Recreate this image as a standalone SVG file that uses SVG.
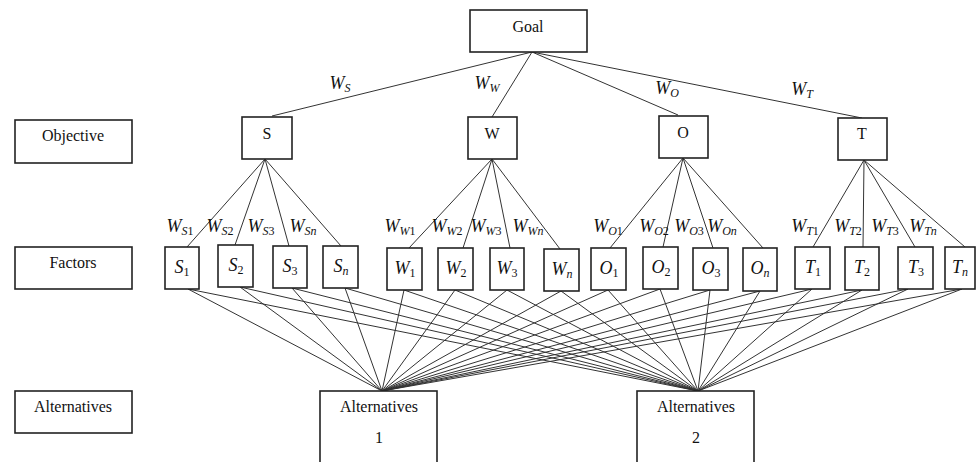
<svg xmlns="http://www.w3.org/2000/svg" width="976" height="462" viewBox="0 0 976 462">
<style>
.box{fill:#fff;stroke:#222;stroke-width:1.6}
.lbl{font-family:"Times New Roman",Times,"Liberation Serif","Noto Serif","DejaVu Serif",serif;font-size:16px;fill:#111;text-anchor:middle}
.w{font-family:"Times New Roman",Times,"Liberation Serif","Noto Serif","DejaVu Serif",serif;font-style:italic;font-size:18px;fill:#111;text-anchor:middle}
.sub{font-size:12px}
.d{font-style:normal}
.c line{stroke:#333;stroke-width:1}
</style>
<rect width="976" height="462" fill="#fff"/>
<g class="c" id="connectors">
<line x1="532" y1="52" x2="272" y2="116"/>
<line x1="532" y1="52" x2="492" y2="117"/>
<line x1="532" y1="52" x2="678" y2="115"/>
<line x1="532" y1="52" x2="862" y2="118"/>
<line x1="265" y1="159" x2="187" y2="247"/>
<line x1="265" y1="159" x2="235" y2="245"/>
<line x1="265" y1="159" x2="289" y2="246"/>
<line x1="265" y1="159" x2="341" y2="246"/>
<line x1="492" y1="159" x2="409" y2="248"/>
<line x1="492" y1="159" x2="463" y2="248"/>
<line x1="492" y1="159" x2="510" y2="248"/>
<line x1="492" y1="159" x2="560" y2="249"/>
<line x1="683" y1="158" x2="610" y2="248"/>
<line x1="683" y1="158" x2="663" y2="247"/>
<line x1="683" y1="158" x2="713" y2="248"/>
<line x1="683" y1="158" x2="763" y2="248"/>
<line x1="864" y1="160" x2="813" y2="247"/>
<line x1="864" y1="160" x2="863" y2="247"/>
<line x1="864" y1="160" x2="915" y2="247"/>
<line x1="864" y1="160" x2="965" y2="247"/>
<line x1="188" y1="289" x2="382" y2="391"/><line x1="188" y1="289" x2="698" y2="391"/>
<line x1="240" y1="287" x2="382" y2="391"/><line x1="240" y1="287" x2="698" y2="391"/>
<line x1="292" y1="288" x2="382" y2="391"/><line x1="292" y1="288" x2="698" y2="391"/>
<line x1="345" y1="288" x2="382" y2="391"/><line x1="345" y1="288" x2="698" y2="391"/>
<line x1="404" y1="290" x2="382" y2="391"/><line x1="404" y1="290" x2="698" y2="391"/>
<line x1="455" y1="290" x2="382" y2="391"/><line x1="455" y1="290" x2="698" y2="391"/>
<line x1="507" y1="290" x2="382" y2="391"/><line x1="507" y1="290" x2="698" y2="391"/>
<line x1="561" y1="291" x2="382" y2="391"/><line x1="561" y1="291" x2="698" y2="391"/>
<line x1="608" y1="290" x2="382" y2="391"/><line x1="608" y1="290" x2="698" y2="391"/>
<line x1="660" y1="289" x2="382" y2="391"/><line x1="660" y1="289" x2="698" y2="391"/>
<line x1="710" y1="290" x2="382" y2="391"/><line x1="710" y1="290" x2="698" y2="391"/>
<line x1="760" y1="291" x2="382" y2="391"/><line x1="760" y1="291" x2="698" y2="391"/>
<line x1="812" y1="289" x2="382" y2="391"/><line x1="812" y1="289" x2="698" y2="391"/>
<line x1="862" y1="290" x2="382" y2="391"/><line x1="862" y1="290" x2="698" y2="391"/>
<line x1="908" y1="289" x2="382" y2="391"/><line x1="908" y1="289" x2="698" y2="391"/>
<line x1="962" y1="289" x2="382" y2="391"/><line x1="962" y1="289" x2="698" y2="391"/>
</g>
<g id="weights">
<text class="w" x="340" y="89">W<tspan class="sub" dy="3">S</tspan></text>
<text class="w" x="487" y="89">W<tspan class="sub" dy="3">W</tspan></text>
<text class="w" x="667" y="94">W<tspan class="sub" dy="3">O</tspan></text>
<text class="w" x="802" y="95">W<tspan class="sub" dy="3">T</tspan></text>
<text class="w" x="180" y="232">W<tspan class="sub" dy="3">S<tspan class="d">1</tspan></tspan></text>
<text class="w" x="220" y="232">W<tspan class="sub" dy="3">S<tspan class="d">2</tspan></tspan></text>
<text class="w" x="261" y="232">W<tspan class="sub" dy="3">S<tspan class="d">3</tspan></tspan></text>
<text class="w" x="303" y="232">W<tspan class="sub" dy="3">Sn</tspan></text>
<text class="w" x="400" y="232">W<tspan class="sub" dy="3">W<tspan class="d">1</tspan></tspan></text>
<text class="w" x="447" y="232">W<tspan class="sub" dy="3">W<tspan class="d">2</tspan></tspan></text>
<text class="w" x="486" y="232">W<tspan class="sub" dy="3">W<tspan class="d">3</tspan></tspan></text>
<text class="w" x="528" y="232">W<tspan class="sub" dy="3">Wn</tspan></text>
<text class="w" x="608" y="232">W<tspan class="sub" dy="3">O<tspan class="d">1</tspan></tspan></text>
<text class="w" x="654" y="232">W<tspan class="sub" dy="3">O<tspan class="d">2</tspan></tspan></text>
<text class="w" x="689" y="232">W<tspan class="sub" dy="3">O<tspan class="d">3</tspan></tspan></text>
<text class="w" x="722" y="232">W<tspan class="sub" dy="3">On</tspan></text>
<text class="w" x="805" y="232">W<tspan class="sub" dy="3">T<tspan class="d">1</tspan></tspan></text>
<text class="w" x="848" y="232">W<tspan class="sub" dy="3">T<tspan class="d">2</tspan></tspan></text>
<text class="w" x="885" y="232">W<tspan class="sub" dy="3">T<tspan class="d">3</tspan></tspan></text>
<text class="w" x="923" y="232">W<tspan class="sub" dy="3">Tn</tspan></text>
</g>
<g id="goal"><rect class="box" x="470" y="10" width="117" height="42"/><text class="lbl" x="528" y="32">Goal</text></g>
<g id="label-objective"><rect class="box" x="15" y="120" width="117" height="43"/><text class="lbl" x="73" y="141">Objective</text></g>
<g id="label-factors"><rect class="box" x="15" y="247" width="117" height="42"/><text class="lbl" x="73" y="268">Factors</text></g>
<g id="label-alternatives"><rect class="box" x="15" y="391" width="117" height="42"/><text class="lbl" x="73" y="412">Alternatives</text></g>
<g id="obj-S"><rect class="box" x="242" y="117" width="50" height="42"/><text class="lbl" x="267" y="139">S</text></g>
<g id="obj-W"><rect class="box" x="468" y="117" width="49" height="42"/><text class="lbl" x="492" y="139">W</text></g>
<g id="obj-O"><rect class="box" x="659" y="116" width="49" height="42"/><text class="lbl" x="683" y="138">O</text></g>
<g id="obj-T"><rect class="box" x="838" y="118" width="49" height="42"/><text class="lbl" x="862" y="139">T</text></g>
<g id="f-S1"><rect class="box" x="165" y="247" width="34" height="42"/><text class="w" x="182" y="273">S<tspan class="sub d" dy="3">1</tspan></text></g>
<g id="f-S2"><rect class="box" x="218" y="245" width="35" height="42"/><text class="w" x="236" y="271">S<tspan class="sub d" dy="3">2</tspan></text></g>
<g id="f-S3"><rect class="box" x="273" y="246" width="34" height="42"/><text class="w" x="290" y="272">S<tspan class="sub d" dy="3">3</tspan></text></g>
<g id="f-Sn"><rect class="box" x="323" y="246" width="35" height="42"/><text class="w" x="341" y="272">S<tspan class="sub" dy="3">n</tspan></text></g>
<g id="f-W1"><rect class="box" x="387" y="248" width="35" height="42"/><text class="w" x="405" y="274">W<tspan class="sub d" dy="3">1</tspan></text></g>
<g id="f-W2"><rect class="box" x="438" y="248" width="35" height="42"/><text class="w" x="456" y="274">W<tspan class="sub d" dy="3">2</tspan></text></g>
<g id="f-W3"><rect class="box" x="490" y="248" width="34" height="42"/><text class="w" x="507" y="274">W<tspan class="sub d" dy="3">3</tspan></text></g>
<g id="f-Wn"><rect class="box" x="544" y="249" width="35" height="42"/><text class="w" x="562" y="275">W<tspan class="sub" dy="3">n</tspan></text></g>
<g id="f-O1"><rect class="box" x="591" y="248" width="35" height="42"/><text class="w" x="609" y="274">O<tspan class="sub d" dy="3">1</tspan></text></g>
<g id="f-O2"><rect class="box" x="643" y="247" width="35" height="42"/><text class="w" x="661" y="273">O<tspan class="sub d" dy="3">2</tspan></text></g>
<g id="f-O3"><rect class="box" x="693" y="248" width="35" height="42"/><text class="w" x="711" y="274">O<tspan class="sub d" dy="3">3</tspan></text></g>
<g id="f-On"><rect class="box" x="743" y="248" width="34" height="43"/><text class="w" x="760" y="274">O<tspan class="sub" dy="3">n</tspan></text></g>
<g id="f-T1"><rect class="box" x="795" y="247" width="35" height="42"/><text class="w" x="813" y="273">T<tspan class="sub d" dy="3">1</tspan></text></g>
<g id="f-T2"><rect class="box" x="845" y="247" width="34" height="43"/><text class="w" x="862" y="273">T<tspan class="sub d" dy="3">2</tspan></text></g>
<g id="f-T3"><rect class="box" x="898" y="247" width="35" height="42"/><text class="w" x="916" y="273">T<tspan class="sub d" dy="3">3</tspan></text></g>
<g id="f-Tn"><rect class="box" x="945" y="247" width="30" height="42"/><text class="w" x="960" y="273">T<tspan class="sub" dy="3">n</tspan></text></g>
<g id="alt-1"><rect class="box" x="320" y="391" width="117" height="80"/><text class="lbl" x="379" y="412">Alternatives</text><text class="lbl" x="379" y="443">1</text></g>
<g id="alt-2"><rect class="box" x="637" y="391" width="117" height="80"/><text class="lbl" x="696" y="412">Alternatives</text><text class="lbl" x="696" y="443">2</text></g>
</svg>
